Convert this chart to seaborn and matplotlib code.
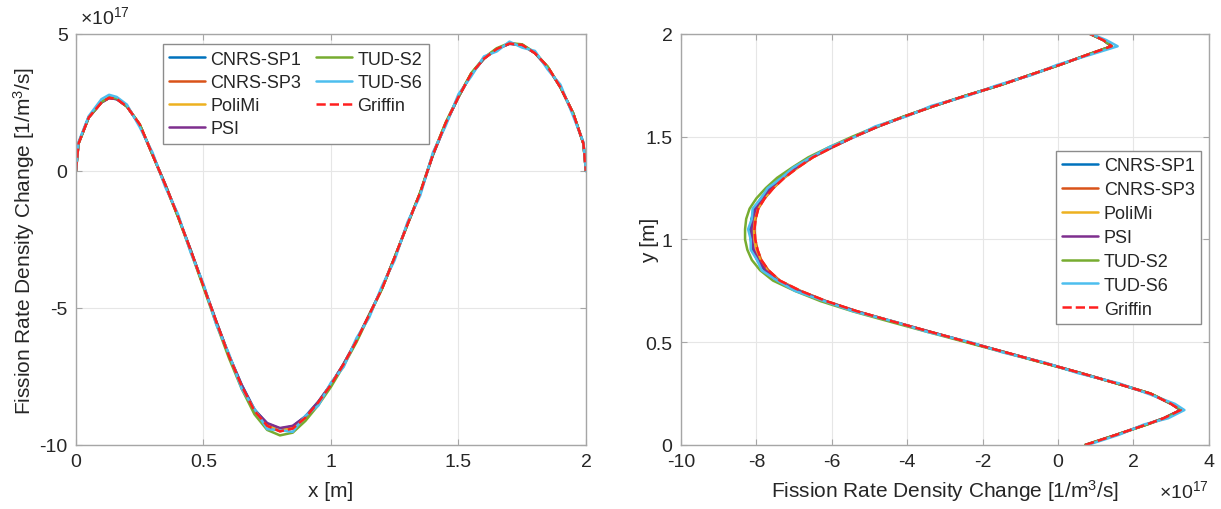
import matplotlib
matplotlib.use("Agg")
import matplotlib.pyplot as plt
import seaborn as sns

# ---------------- data (values in units of 1e17 1/m^3/s) ----------------
SERIES = ["CNRS-SP1", "CNRS-SP3", "PoliMi", "PSI", "TUD-S2", "TUD-S6", "Griffin"]

# Left panel: horizontal traverse, x [m]
X_POS = [0, 0.01, 0.05, 0.10, 0.13, 0.16, 0.20, 0.25, 0.30, 0.35, 0.40, 0.45, 0.50, 0.55, 0.60,
         0.65, 0.70, 0.75, 0.80, 0.85, 0.90, 0.95, 1.00, 1.05, 1.10, 1.15, 1.20, 1.25, 1.30,
         1.35, 1.40, 1.45, 1.50, 1.55, 1.60, 1.65, 1.70, 1.75, 1.80, 1.85, 1.90, 1.95, 1.99, 2.00]

CNRS_SP1_L = [0, 1.0, 1.95, 2.5, 2.66, 2.62, 2.35, 1.68, 0.6, -0.48, -1.65, -2.88, -4.18, -5.48, -6.72,
              -7.8, -8.7, -9.22, -9.4, -9.32, -8.95, -8.42, -7.78, -7.03, -6.18, -5.25, -4.28,
              -3.15, -1.95, -0.8, 0.58, 1.72, 2.7, 3.53, 4.1, 4.45, 4.64, 4.6, 4.3, 3.78, 3.05,
              2.1, 1.0, 0]
CNRS_SP3_L = [0, 1.0, 1.95, 2.5, 2.67, 2.63, 2.35, 1.7, 0.6, -0.5, -1.65, -2.9, -4.2, -5.5, -6.75,
              -7.85, -8.75, -9.3, -9.5, -9.4, -9.0, -8.45, -7.8, -7.05, -6.2, -5.25, -4.3,
              -3.15, -1.95, -0.8, 0.6, 1.75, 2.7, 3.55, 4.1, 4.45, 4.65, 4.6, 4.3, 3.8, 3.05,
              2.1, 1.0, 0]
POLIMI_L = [0, 1.0, 1.95, 2.5, 2.67, 2.63, 2.35, 1.7, 0.6, -0.5, -1.65, -2.9, -4.2, -5.5, -6.75,
            -7.85, -8.75, -9.28, -9.45, -9.38, -9.0, -8.45, -7.8, -7.05, -6.2, -5.25, -4.3,
            -3.15, -1.95, -0.8, 0.6, 1.75, 2.7, 3.55, 4.1, 4.45, 4.65, 4.6, 4.3, 3.8, 3.05,
            2.1, 1.0, 0]
PSI_L = [0, 1.0, 1.95, 2.5, 2.66, 2.62, 2.35, 1.69, 0.6, -0.49, -1.65, -2.89, -4.19, -5.49, -6.73,
         -7.82, -8.72, -9.2, -9.38, -9.3, -8.96, -8.43, -7.79, -7.04, -6.19, -5.25, -4.29,
         -3.15, -1.95, -0.8, 0.59, 1.73, 2.7, 3.54, 4.1, 4.45, 4.64, 4.6, 4.3, 3.79, 3.05,
         2.1, 1.0, 0]
TUD_S2_L = [0, 1.0, 1.96, 2.52, 2.69, 2.65, 2.36, 1.7, 0.6, -0.52, -1.68, -2.94, -4.25, -5.57, -6.83,
            -7.95, -8.88, -9.45, -9.65, -9.55, -9.12, -8.55, -7.88, -7.1, -6.25, -5.28, -4.3,
            -3.15, -1.95, -0.78, 0.62, 1.77, 2.72, 3.57, 4.13, 4.48, 4.67, 4.62, 4.32, 3.8, 3.06,
            2.1, 1.0, 0]
TUD_S6_L = [0, 1.05, 2.0, 2.62, 2.78, 2.7, 2.42, 1.6, 0.68, -0.58, -1.57, -2.98, -4.12, -5.6, -6.67,
            -7.95, -8.68, -9.42, -9.46, -9.52, -8.93, -8.57, -7.72, -7.15, -6.1, -5.35, -4.2,
            -3.25, -1.87, -0.9, 0.68, 1.65, 2.8, 3.45, 4.18, 4.36, 4.72, 4.5, 4.38, 3.7, 3.15,
            2.0, 1.05, 0]
GRIFFIN_L = [0, 1.0, 1.95, 2.5, 2.67, 2.63, 2.35, 1.7, 0.6, -0.5, -1.65, -2.9, -4.2, -5.5, -6.75,
             -7.85, -8.75, -9.3, -9.5, -9.4, -9.0, -8.45, -7.8, -7.05, -6.2, -5.25, -4.3,
             -3.15, -1.95, -0.8, 0.6, 1.75, 2.7, 3.55, 4.1, 4.45, 4.65, 4.6, 4.3, 3.8, 3.05,
             2.1, 1.0, 0]

# Right panel: vertical traverse, y [m]
Y_POS = [0, 0.05, 0.10, 0.13, 0.17, 0.20, 0.25, 0.30, 0.35, 0.40, 0.45, 0.50, 0.55, 0.60,
         0.65, 0.70, 0.75, 0.80, 0.85, 0.90, 0.95, 1.00, 1.05, 1.10, 1.15, 1.20, 1.25, 1.30,
         1.35, 1.40, 1.45, 1.50, 1.55, 1.60, 1.65, 1.70, 1.75, 1.80, 1.85, 1.90, 1.94, 1.97, 2.00]

CNRS_SP1_R = [0.72, 1.55, 2.35, 2.8, 3.25, 3.0, 2.45, 1.55, 0.6, -0.38, -1.38, -2.38, -3.38,
              -4.37, -5.34, -6.18, -6.88, -7.45, -7.78, -7.98, -8.1, -8.15, -8.16, -8.13,
              -8.05, -7.88, -7.65, -7.35, -6.96, -6.54, -5.99, -5.41, -4.77, -4.05, -3.28,
              -2.44, -1.55, -0.75, 0.05, 0.8, 1.42, 1.2, 0.85]
CNRS_SP3_R = [0.72, 1.55, 2.35, 2.8, 3.25, 3.0, 2.45, 1.55, 0.6, -0.38, -1.38, -2.38, -3.38,
              -4.36, -5.32, -6.15, -6.83, -7.38, -7.68, -7.87, -7.97, -8.03, -8.05, -8.02,
              -7.95, -7.78, -7.55, -7.26, -6.9, -6.5, -5.97, -5.4, -4.77, -4.05, -3.28,
              -2.44, -1.55, -0.75, 0.05, 0.8, 1.42, 1.2, 0.85]
POLIMI_R = [0.72, 1.55, 2.35, 2.8, 3.25, 3.0, 2.45, 1.55, 0.6, -0.38, -1.38, -2.38, -3.38,
            -4.36, -5.33, -6.16, -6.85, -7.41, -7.72, -7.9, -8.0, -8.06, -8.08, -8.05,
            -7.97, -7.8, -7.57, -7.28, -6.91, -6.5, -5.97, -5.4, -4.77, -4.05, -3.28,
            -2.44, -1.55, -0.75, 0.05, 0.8, 1.42, 1.2, 0.85]
PSI_R = [0.72, 1.55, 2.35, 2.8, 3.25, 3.0, 2.45, 1.55, 0.6, -0.38, -1.38, -2.38, -3.38,
         -4.37, -5.34, -6.17, -6.87, -7.43, -7.76, -7.95, -8.07, -8.12, -8.13, -8.1,
         -8.02, -7.85, -7.62, -7.32, -6.94, -6.52, -5.98, -5.4, -4.77, -4.05, -3.28,
         -2.44, -1.55, -0.75, 0.05, 0.8, 1.42, 1.2, 0.85]
TUD_S2_R = [0.72, 1.56, 2.37, 2.83, 3.28, 3.02, 2.46, 1.55, 0.58, -0.41, -1.42, -2.44, -3.46,
            -4.46, -5.44, -6.3, -6.98, -7.56, -7.9, -8.12, -8.24, -8.3, -8.3, -8.27,
            -8.18, -8.0, -7.75, -7.45, -7.05, -6.62, -6.06, -5.46, -4.8, -4.07, -3.29,
            -2.45, -1.55, -0.75, 0.05, 0.8, 1.43, 1.2, 0.85]
TUD_S6_R = [0.78, 1.62, 2.28, 2.92, 3.35, 3.1, 2.38, 1.62, 0.52, -0.33, -1.46, -2.32, -3.46,
            -4.33, -5.42, -6.2, -6.98, -7.45, -7.86, -7.98, -8.15, -8.15, -8.22, -8.12,
            -8.1, -7.88, -7.7, -7.33, -7.02, -6.55, -6.06, -5.38, -4.85, -4.0, -3.36,
            -2.38, -1.62, -0.7, -0.02, 0.88, 1.58, 1.28, 0.88]
GRIFFIN_R = [0.72, 1.55, 2.35, 2.8, 3.25, 3.0, 2.45, 1.55, 0.6, -0.38, -1.38, -2.38, -3.38,
             -4.36, -5.32, -6.15, -6.83, -7.38, -7.68, -7.87, -7.97, -8.03, -8.05, -8.02,
             -7.95, -7.78, -7.55, -7.26, -6.9, -6.5, -5.97, -5.4, -4.77, -4.05, -3.28,
             -2.44, -1.55, -0.75, 0.05, 0.8, 1.42, 1.2, 0.85]

LEFT_DATA = [CNRS_SP1_L, CNRS_SP3_L, POLIMI_L, PSI_L, TUD_S2_L, TUD_S6_L, GRIFFIN_L]
RIGHT_DATA = [CNRS_SP1_R, CNRS_SP3_R, POLIMI_R, PSI_R, TUD_S2_R, TUD_S6_R, GRIFFIN_R]

LEFT_XTICKS = [0, 0.5, 1, 1.5, 2]
LEFT_XTICKLABELS = ["0", "0.5", "1", "1.5", "2"]
LEFT_YTICKS = [-10, -5, 0, 5]
LEFT_YTICKLABELS = ["-10", "-5", "0", "5"]
RIGHT_XTICKS = [-10, -8, -6, -4, -2, 0, 2, 4]
RIGHT_XTICKLABELS = ["-10", "-8", "-6", "-4", "-2", "0", "2", "4"]
RIGHT_YTICKS = [0, 0.5, 1, 1.5, 2]
RIGHT_YTICKLABELS = ["0", "0.5", "1", "1.5", "2"]

# ---------------- style ----------------
COLORS = ["#0072BD", "#D95319", "#EDB120", "#7E2F8E", "#77AC30", "#4DBEEE", "#FF1F1F"]
STYLES = ["-", "-", "-", "-", "-", "-", "--"]

sns.set_theme(style="whitegrid")
plt.rcParams["font.family"] = ["Liberation Sans", "DejaVu Sans"]
plt.rcParams["mathtext.fontset"] = "custom"
plt.rcParams["mathtext.rm"] = "Liberation Sans"
plt.rcParams["mathtext.it"] = "Liberation Sans:italic"
plt.rcParams["mathtext.default"] = "regular"

TXT = "#262626"
SPINE = "#a6a6a6"
GRID = "#e6e6e6"
TICK_FS = 14
LABEL_FS = 15
LEG_FS = 13

fig = plt.figure(figsize=(12.21, 5.10), dpi=100)
axL = fig.add_axes([0.0622, 0.1255, 0.4177, 0.806])
axR = fig.add_axes([0.5577, 0.1255, 0.4324, 0.806])


def style_axes(ax):
    ax.set_facecolor("white")
    for s in ax.spines.values():
        s.set_visible(True)
        s.set_color(SPINE)
        s.set_linewidth(1.0)
    ax.grid(True, color=GRID, linewidth=0.8)
    ax.tick_params(direction="in", length=4, width=0.8, color=SPINE,
                   labelsize=TICK_FS, labelcolor=TXT, top=True, right=True,
                   bottom=True, left=True, pad=6)


for name, vals, c, ls in zip(SERIES, LEFT_DATA, COLORS, STYLES):
    sns.lineplot(x=X_POS, y=vals, ax=axL, color=c, linestyle=ls, linewidth=1.8,
                 label=name, sort=False, estimator=None)

for name, vals, c, ls in zip(SERIES, RIGHT_DATA, COLORS, STYLES):
    sns.lineplot(x=vals, y=Y_POS, ax=axR, color=c, linestyle=ls, linewidth=1.8,
                 label=name, sort=False, estimator=None)

# left axes
style_axes(axL)
axL.set_xlim(0, 2)
axL.set_ylim(-10, 5)
axL.set_xticks(LEFT_XTICKS)
axL.set_xticklabels(LEFT_XTICKLABELS)
axL.set_yticks(LEFT_YTICKS)
axL.set_yticklabels(LEFT_YTICKLABELS)
axL.set_xlabel("x [m]", fontsize=LABEL_FS, color=TXT, va="center")
axL.set_ylabel("Fission Rate Density Change [1/m$^3$/s]", fontsize=LABEL_FS, color=TXT,
               va="center")
axL.xaxis.set_label_coords(0.5, -0.11)
axL.yaxis.set_label_coords(-0.102, 0.5)
axL.text(0.008, 1.044, "×10$^{17}$", transform=axL.transAxes, fontsize=TICK_FS,
         color=TXT, ha="left", va="center")
legL = axL.legend(ncol=2, loc="upper left", bbox_to_anchor=(0.17, 0.975), fontsize=LEG_FS,
                  frameon=True, fancybox=False, framealpha=1, edgecolor="#8c8c8c",
                  handlelength=2.0, handletextpad=0.3, columnspacing=0.8,
                  labelspacing=0.35, borderpad=0.35, borderaxespad=0)
legL.get_frame().set_linewidth(1.0)
for t in legL.get_texts():
    t.set_color(TXT)

# right axes
style_axes(axR)
axR.set_xlim(-10, 4)
axR.set_ylim(0, 2)
axR.set_xticks(RIGHT_XTICKS)
axR.set_xticklabels(RIGHT_XTICKLABELS)
axR.set_yticks(RIGHT_YTICKS)
axR.set_yticklabels(RIGHT_YTICKLABELS)
axR.set_xlabel("Fission Rate Density Change [1/m$^3$/s]", fontsize=LABEL_FS, color=TXT,
               va="center")
axR.set_ylabel("y [m]", fontsize=LABEL_FS, color=TXT, va="center")
axR.xaxis.set_label_coords(0.5, -0.11)
axR.yaxis.set_label_coords(-0.06, 0.5)
axR.text(1.0, -0.11, "×10$^{17}$", transform=axR.transAxes, fontsize=TICK_FS,
         color=TXT, ha="right", va="center")
legR = axR.legend(ncol=1, loc="upper right", bbox_to_anchor=(0.985, 0.715), fontsize=LEG_FS,
                  frameon=True, fancybox=False, framealpha=1, edgecolor="#8c8c8c",
                  handlelength=2.0, handletextpad=0.3, labelspacing=0.38,
                  borderpad=0.35, borderaxespad=0)
legR.get_frame().set_linewidth(1.0)
for t in legR.get_texts():
    t.set_color(TXT)

fig.savefig("out.png", dpi=100, facecolor="white")
